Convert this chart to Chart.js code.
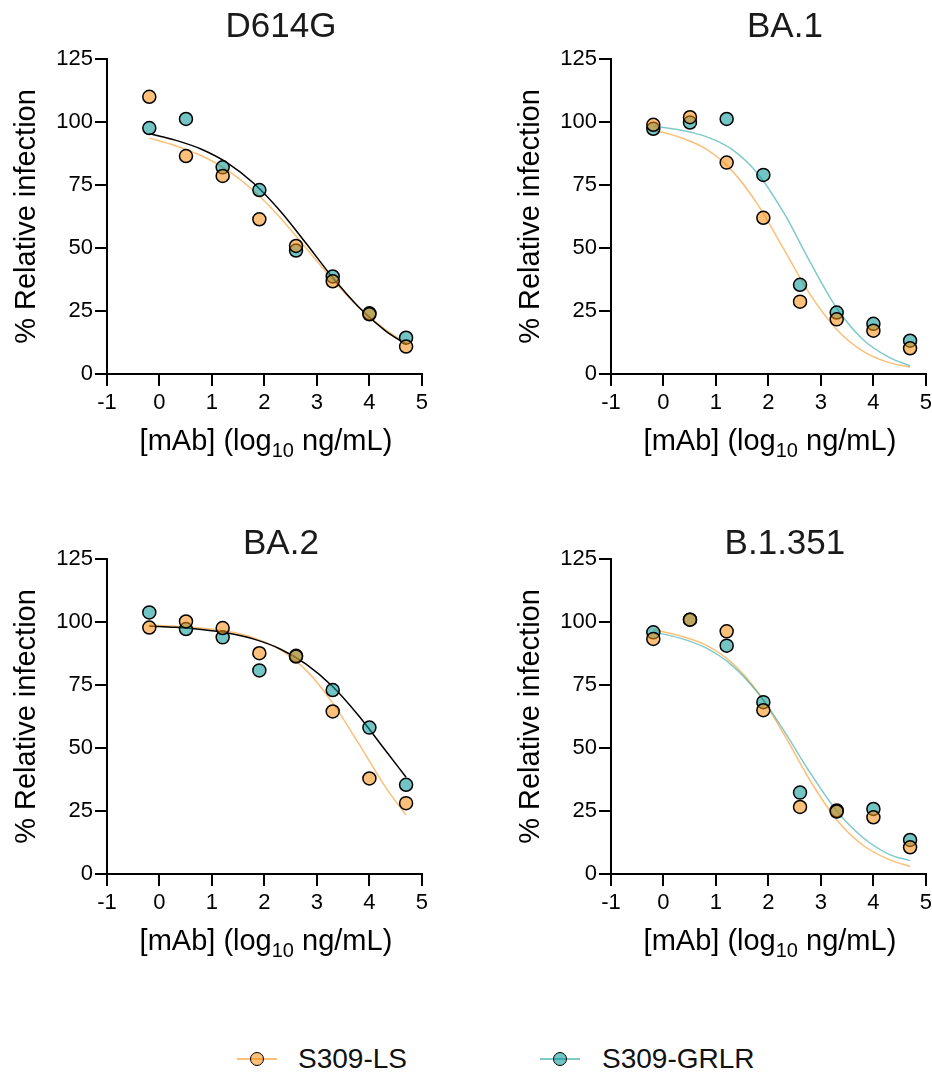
<!DOCTYPE html>
<html>
<head>
<meta charset="utf-8">
<script src="https://cdn.jsdelivr.net/npm/chart.js@4"></script>
<style>
  body { margin: 0; width: 932px; height: 1072px; background: #fff; overflow: hidden; position: relative;
         font-family: "Liberation Sans", Arial, Helvetica, sans-serif; }
  canvas { position: absolute; }
  .key-line { position: absolute; height: 2px; width: 40px; }
  .key-dot { position: absolute; width: 14px; height: 14px; border-radius: 50%; box-sizing: border-box; border: 1.5px solid #000; }
  .key-text { position: absolute; font-size: 28px; line-height: 28px; color: #111; }
</style>
</head>
<body>
<canvas id="p0" width="432" height="470" style="left:0px;top:0px"></canvas>
<canvas id="p1" width="432" height="470" style="left:504px;top:0px"></canvas>
<canvas id="p2" width="432" height="470" style="left:0px;top:500px"></canvas>
<canvas id="p3" width="432" height="470" style="left:504px;top:500px"></canvas>

<div class="key-line" style="left:237px;top:1058px;background:rgba(250,139,11,0.55)"></div>
<div class="key-dot" style="left:250px;top:1052px;background:rgba(250,139,11,0.545)"></div>
<div class="key-text" style="left:298px;top:1045px">S309-LS</div>
<div class="key-line" style="left:540px;top:1058px;background:rgba(0,150,150,0.5)"></div>
<div class="key-dot" style="left:553px;top:1052px;background:rgba(0,150,150,0.55)"></div>
<div class="key-text" style="left:602px;top:1045px">S309-GRLR</div>

<script>
const FONT = '"Liberation Sans", Arial, Helvetica, sans-serif';

// log10 ng/mL of the 5-fold dilution series
const doseLog = [-0.194, 0.505, 1.204, 1.903, 2.602, 3.301, 4.0, 4.699];
const fitLog = [-0.194, 0.3, 0.8, 1.3, 1.8, 2.3, 2.8, 3.3, 3.8, 4.3, 4.699];
const xTicks = [-1, 0, 1, 2, 3, 4, 5];
const yTicks = [0, 25, 50, 75, 100, 125];

const variants = ['D614G', 'BA.1', 'BA.2', 'B.1.351'];

const d614gLS   = [110, 86.5, 78.6, 61.4, 50.8, 36.8, 23.7, 10.9];
const d614gGRLR = [97.6, 101.2, 82.0, 73.0, 49.0, 38.7, 24.1, 14.4];
const ba1LS     = [98.9, 101.9, 83.9, 62.0, 28.7, 21.7, 17.2, 10.2];
const ba1GRLR   = [97.3, 99.8, 101.2, 79.0, 35.4, 24.4, 19.9, 13.2];
const ba2LS     = [97.8, 100.2, 97.6, 87.6, 86.3, 64.5, 37.9, 28.1];
const ba2GRLR   = [103.8, 97.2, 93.9, 80.8, 86.6, 73.0, 58.1, 35.4];
const b1351LS   = [93.3, 100.9, 96.3, 65.0, 26.6, 24.8, 22.5, 10.6];
const b1351GRLR = [95.9, 100.9, 90.6, 68.2, 32.3, 25.2, 25.8, 13.5];

const d614gFitLS   = [93.6, 90.6, 86.6, 80.8, 72.6, 62.0, 49.8, 37.4, 26.4, 17.7, 12.2];
const d614gFitGRLR = [95.4, 92.8, 89.2, 83.7, 75.6, 64.7, 51.7, 38.3, 26.5, 17.2, 11.8];
const ba1FitLS     = [96.8, 94.0, 89.4, 80.8, 67.1, 49.3, 31.4, 17.7, 9.1, 4.5, 2.7];
const ba1FitGRLR   = [98.4, 96.9, 94.3, 89.2, 79.4, 63.7, 44.2, 26.2, 13.7, 6.6, 3.2];
const ba2FitLS     = [98.8, 98.3, 97.6, 96.3, 93.7, 89.0, 80.7, 67.9, 51.6, 34.7, 23.4];
const ba2FitGRLR   = [98.4, 97.9, 97.0, 95.6, 93.2, 89.3, 83.2, 74.4, 62.7, 49.2, 38.4];
const b1351FitLS   = [97.0, 94.6, 90.9, 83.9, 72.1, 55.3, 36.9, 21.5, 11.4, 5.7, 3.0];
const b1351FitGRLR = [96.0, 93.7, 89.8, 82.9, 71.8, 56.7, 40.0, 25.1, 14.5, 7.8, 5.3];

const pointsLS   = [d614gLS, ba1LS, ba2LS, b1351LS];
const pointsGRLR = [d614gGRLR, ba1GRLR, ba2GRLR, b1351GRLR];
const fitsLS     = [d614gFitLS, ba1FitLS, ba2FitLS, b1351FitLS];
const fitsGRLR   = [d614gFitGRLR, ba1FitGRLR, ba2FitGRLR, b1351FitGRLR];

const orangeFill = 'rgba(250,139,11,0.545)';
const orangeLine = 'rgba(250,139,11,0.55)';
const tealFill = 'rgba(0,150,150,0.55)';
const tealLine = 'rgba(0,150,150,0.5)';
const grlrFitColour = ['#000', tealLine, '#000', tealLine];
const titleOffset = [-22, -22, -5, -5];

function toXY(xs, ys) {
    return xs.map((x, i) => ({ x: x, y: ys[i] }));
}

const panelText = {
    id: 'panelText',
    afterDraw(chart, args, opts) {
        const ctx = chart.ctx;
        const area = chart.chartArea;
        const mid = (area.left + area.right) / 2;
        ctx.save();
        ctx.fillStyle = '#1a1a1a';
        ctx.textBaseline = 'alphabetic';

        ctx.textAlign = 'center';
        ctx.font = '35px ' + FONT;
        ctx.fillText(opts.title, mid + 16.5, area.top + opts.titleOffset);

        ctx.fillStyle = '#000';
        ctx.save();
        ctx.translate(35, (area.top + area.bottom) / 2);
        ctx.rotate(-Math.PI / 2);
        ctx.font = '29px ' + FONT;
        ctx.fillText('% Relative infection', 0, 0);
        ctx.restore();

        // x title, drawn in pieces for the subscript
        ctx.textAlign = 'left';
        const a = '[mAb] (log', sub = '10', b = ' ng/mL)';
        ctx.font = '29px ' + FONT;
        const wa = ctx.measureText(a).width, wb = ctx.measureText(b).width;
        ctx.font = '20px ' + FONT;
        const ws = ctx.measureText(sub).width;
        let x = mid + 1.5 - (wa + ws + wb) / 2;
        const base = area.bottom + 76;
        ctx.font = '29px ' + FONT;
        ctx.fillText(a, x, base);
        x += wa;
        ctx.font = '20px ' + FONT;
        ctx.fillText(sub, x, base + 6.5);
        x += ws;
        ctx.font = '29px ' + FONT;
        ctx.fillText(b, x, base);
        ctx.restore();
    }
};

variants.forEach((name, i) => {
    const ctx = document.getElementById('p' + i).getContext('2d');
    new Chart(ctx, {
        type: 'scatter',
        data: {
            datasets: [
                {
                    label: 'S309-LS',
                    data: toXY(doseLog, pointsLS[i]),
                    backgroundColor: orangeFill,
                    borderColor: '#000',
                    borderWidth: 1.5,
                    pointRadius: 6.5,
                    order: 0
                },
                {
                    label: 'S309-GRLR',
                    data: toXY(doseLog, pointsGRLR[i]),
                    backgroundColor: tealFill,
                    borderColor: '#000',
                    borderWidth: 1.5,
                    pointRadius: 6.5,
                    order: 1
                },
                {
                    type: 'line',
                    label: 'S309-GRLR fit',
                    data: toXY(fitLog, fitsGRLR[i]),
                    borderColor: grlrFitColour[i],
                    borderWidth: 1.5,
                    pointRadius: 0,
                    fill: false,
                    cubicInterpolationMode: 'monotone',
                    order: 2
                },
                {
                    type: 'line',
                    label: 'S309-LS fit',
                    data: toXY(fitLog, fitsLS[i]),
                    borderColor: orangeLine,
                    borderWidth: 1.5,
                    pointRadius: 0,
                    fill: false,
                    cubicInterpolationMode: 'monotone',
                    order: 3
                }
            ]
        },
        options: {
            responsive: false,
            animation: false,
            layout: { padding: { left: 0, right: 10, top: 59, bottom: 0 } },
            plugins: {
                legend: { display: false },
                tooltip: { enabled: false },
                panelText: { title: name, titleOffset: titleOffset[i] }
            },
            scales: {
                x: {
                    type: 'linear',
                    min: xTicks[0],
                    max: xTicks[xTicks.length - 1],
                    afterFit: (scale) => { scale.height = 96; },
                    afterBuildTicks: (scale) => { scale.ticks = xTicks.map(v => ({ value: v })); },
                    grid: { drawOnChartArea: false, drawTicks: true, tickLength: 12, color: '#000', lineWidth: 2 },
                    border: { display: true, color: '#000', width: 2 },
                    ticks: { color: '#000', padding: 4, font: { family: FONT, size: 22 }, maxRotation: 0 }
                },
                y: {
                    type: 'linear',
                    min: yTicks[0],
                    max: yTicks[yTicks.length - 1],
                    afterFit: (scale) => { scale.width = 107; },
                    afterBuildTicks: (scale) => { scale.ticks = yTicks.map(v => ({ value: v })); },
                    grid: { drawOnChartArea: false, drawTicks: true, tickLength: 12, color: '#000', lineWidth: 2 },
                    border: { display: true, color: '#000', width: 2 },
                    ticks: { color: '#000', padding: 2, font: { family: FONT, size: 22 } }
                }
            }
        },
        plugins: [panelText]
    });
});
</script>
</body>
</html>
